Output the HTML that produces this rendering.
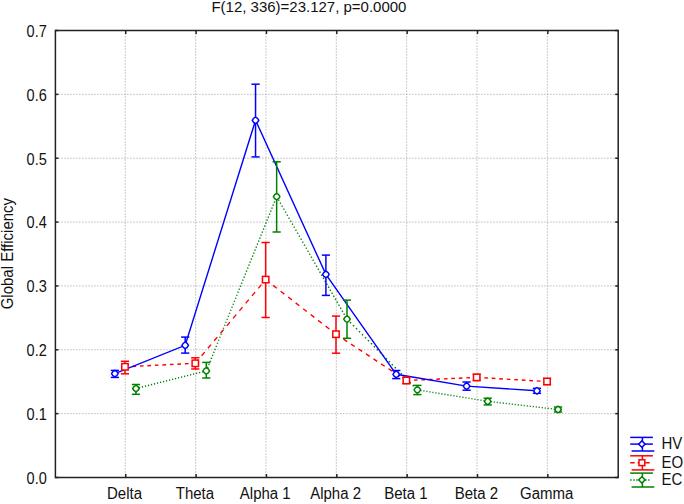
<!DOCTYPE html>
<html><head><meta charset="utf-8"><style>
html,body{margin:0;padding:0;background:#fff;width:684px;height:504px;overflow:hidden;font-family:"Liberation Sans",sans-serif;}
svg{display:block}
</style></head><body>
<svg width="684" height="504" viewBox="0 0 684 504"><rect x="0" y="0" width="684" height="504" fill="#fff"/>
<g stroke="#9a9a9a" stroke-width="1" stroke-dasharray="1 2" fill="none"><line x1="55.4" y1="413.64" x2="618.2" y2="413.64"/><line x1="55.4" y1="349.79" x2="618.2" y2="349.79"/><line x1="55.4" y1="285.93" x2="618.2" y2="285.93"/><line x1="55.4" y1="222.07" x2="618.2" y2="222.07"/><line x1="55.4" y1="158.21" x2="618.2" y2="158.21"/><line x1="55.4" y1="94.36" x2="618.2" y2="94.36"/><line x1="125.25" y1="30.5" x2="125.25" y2="477.5"/><line x1="195.60" y1="30.5" x2="195.60" y2="477.5"/><line x1="265.95" y1="30.5" x2="265.95" y2="477.5"/><line x1="336.30" y1="30.5" x2="336.30" y2="477.5"/><line x1="406.65" y1="30.5" x2="406.65" y2="477.5"/><line x1="477.00" y1="30.5" x2="477.00" y2="477.5"/><line x1="547.35" y1="30.5" x2="547.35" y2="477.5"/></g>
<rect x="55.4" y="30.5" width="562.80" height="447.00" fill="none" stroke="#222" stroke-width="1.5"/>
<g stroke="#222" stroke-width="1.5"><line x1="55.4" y1="477.50" x2="58.4" y2="477.50"/><line x1="618.2" y1="477.50" x2="615.2" y2="477.50"/><line x1="55.4" y1="413.64" x2="58.4" y2="413.64"/><line x1="618.2" y1="413.64" x2="615.2" y2="413.64"/><line x1="55.4" y1="349.79" x2="58.4" y2="349.79"/><line x1="618.2" y1="349.79" x2="615.2" y2="349.79"/><line x1="55.4" y1="285.93" x2="58.4" y2="285.93"/><line x1="618.2" y1="285.93" x2="615.2" y2="285.93"/><line x1="55.4" y1="222.07" x2="58.4" y2="222.07"/><line x1="618.2" y1="222.07" x2="615.2" y2="222.07"/><line x1="55.4" y1="158.21" x2="58.4" y2="158.21"/><line x1="618.2" y1="158.21" x2="615.2" y2="158.21"/><line x1="55.4" y1="94.36" x2="58.4" y2="94.36"/><line x1="618.2" y1="94.36" x2="615.2" y2="94.36"/><line x1="55.4" y1="30.50" x2="58.4" y2="30.50"/><line x1="618.2" y1="30.50" x2="615.2" y2="30.50"/><line x1="125.75" y1="477.5" x2="125.75" y2="474.0"/><line x1="125.75" y1="30.5" x2="125.75" y2="34.0"/><line x1="196.10" y1="477.5" x2="196.10" y2="474.0"/><line x1="196.10" y1="30.5" x2="196.10" y2="34.0"/><line x1="266.45" y1="477.5" x2="266.45" y2="474.0"/><line x1="266.45" y1="30.5" x2="266.45" y2="34.0"/><line x1="336.80" y1="477.5" x2="336.80" y2="474.0"/><line x1="336.80" y1="30.5" x2="336.80" y2="34.0"/><line x1="407.15" y1="477.5" x2="407.15" y2="474.0"/><line x1="407.15" y1="30.5" x2="407.15" y2="34.0"/><line x1="477.50" y1="477.5" x2="477.50" y2="474.0"/><line x1="477.50" y1="30.5" x2="477.50" y2="34.0"/><line x1="547.85" y1="477.5" x2="547.85" y2="474.0"/><line x1="547.85" y1="30.5" x2="547.85" y2="34.0"/></g>
<text transform="translate(46.80 483.90) scale(0.97 1.08)" text-anchor="end" font-family="Liberation Sans, sans-serif" font-size="15" fill="#111">0.0</text>
<text transform="translate(46.80 420.04) scale(0.97 1.08)" text-anchor="end" font-family="Liberation Sans, sans-serif" font-size="15" fill="#111">0.1</text>
<text transform="translate(46.80 356.19) scale(0.97 1.08)" text-anchor="end" font-family="Liberation Sans, sans-serif" font-size="15" fill="#111">0.2</text>
<text transform="translate(46.80 292.33) scale(0.97 1.08)" text-anchor="end" font-family="Liberation Sans, sans-serif" font-size="15" fill="#111">0.3</text>
<text transform="translate(46.80 228.47) scale(0.97 1.08)" text-anchor="end" font-family="Liberation Sans, sans-serif" font-size="15" fill="#111">0.4</text>
<text transform="translate(46.80 164.61) scale(0.97 1.08)" text-anchor="end" font-family="Liberation Sans, sans-serif" font-size="15" fill="#111">0.5</text>
<text transform="translate(46.80 100.76) scale(0.97 1.08)" text-anchor="end" font-family="Liberation Sans, sans-serif" font-size="15" fill="#111">0.6</text>
<text transform="translate(46.80 36.90) scale(0.97 1.08)" text-anchor="end" font-family="Liberation Sans, sans-serif" font-size="15" fill="#111">0.7</text>
<text transform="translate(124.55 499.20) scale(1.0 1.04)" text-anchor="middle" font-family="Liberation Sans, sans-serif" font-size="15" fill="#111">Delta</text>
<text transform="translate(194.90 499.20) scale(1.0 1.04)" text-anchor="middle" font-family="Liberation Sans, sans-serif" font-size="15" fill="#111">Theta</text>
<text transform="translate(265.25 499.20) scale(1.0 1.04)" text-anchor="middle" font-family="Liberation Sans, sans-serif" font-size="15" fill="#111">Alpha 1</text>
<text transform="translate(335.60 499.20) scale(1.0 1.04)" text-anchor="middle" font-family="Liberation Sans, sans-serif" font-size="15" fill="#111">Alpha 2</text>
<text transform="translate(405.95 499.20) scale(1.0 1.04)" text-anchor="middle" font-family="Liberation Sans, sans-serif" font-size="15" fill="#111">Beta 1</text>
<text transform="translate(476.30 499.20) scale(1.0 1.04)" text-anchor="middle" font-family="Liberation Sans, sans-serif" font-size="15" fill="#111">Beta 2</text>
<text transform="translate(546.65 499.20) scale(1.0 1.04)" text-anchor="middle" font-family="Liberation Sans, sans-serif" font-size="15" fill="#111">Gamma</text>
<text transform="translate(211.40 12.30) scale(1.0 1.03)" font-family="Liberation Sans, sans-serif" font-size="15" fill="#111">F(12, 336)=23.127, p=0.0000</text>
<text transform="translate(12.80 253.60) rotate(-90) scale(1.0 1.04)" text-anchor="middle" font-family="Liberation Sans, sans-serif" font-size="15" fill="#111">Global Efficiency</text>
<path d="M135.95 388.50 L206.30 370.90" fill="none" stroke="#008000" stroke-width="1.4" stroke-dasharray="1.19 1.91"/>
<path d="M206.30 370.90 L276.65 196.60" fill="none" stroke="#008000" stroke-width="1.4" stroke-dasharray="1.24 2.00"/>
<path d="M276.65 196.60 L347.00 319.20" fill="none" stroke="#008000" stroke-width="1.4" stroke-dasharray="1.33 2.13"/>
<path d="M347.00 319.20 L417.35 389.90" fill="none" stroke="#008000" stroke-width="1.4" stroke-dasharray="1.62 2.61"/>
<path d="M417.35 389.90 L487.70 401.30" fill="none" stroke="#008000" stroke-width="1.4" stroke-dasharray="1.17 1.87"/>
<path d="M487.70 401.30 L558.05 409.50" fill="none" stroke="#008000" stroke-width="1.4" stroke-dasharray="1.16 1.86"/>
<path d="M124.95 366.80 L195.30 363.30" fill="none" stroke="#ff0000" stroke-width="1.4" stroke-dasharray="3.70 3.80"/>
<path d="M195.30 363.30 L265.65 279.60" fill="none" stroke="#ff0000" stroke-width="1.4" stroke-dasharray="4.83 4.96"/>
<path d="M265.65 279.60 L336.00 334.20" fill="none" stroke="#ff0000" stroke-width="1.4" stroke-dasharray="4.68 4.81"/>
<path d="M336.00 334.20 L406.35 380.50" fill="none" stroke="#ff0000" stroke-width="1.4" stroke-dasharray="4.43 4.55"/>
<path d="M406.35 380.50 L476.70 377.40" fill="none" stroke="#ff0000" stroke-width="1.4" stroke-dasharray="3.70 3.80"/>
<path d="M476.70 377.40 L547.05 381.50" fill="none" stroke="#ff0000" stroke-width="1.4" stroke-dasharray="3.71 3.81"/>
<path d="M114.85 373.60 L185.20 345.30 L255.55 120.30 L325.90 274.40 L396.25 374.30 L466.60 386.10 L536.95 390.80" fill="none" stroke="#0000ff" stroke-width="1.4"/>
<g stroke="#008000" stroke-width="1.5"><line x1="135.95" y1="384.50" x2="135.95" y2="394.30"/><line x1="131.85" y1="384.50" x2="140.05" y2="384.50"/><line x1="131.85" y1="394.30" x2="140.05" y2="394.30"/><line x1="206.30" y1="362.40" x2="206.30" y2="378.00"/><line x1="202.20" y1="362.40" x2="210.40" y2="362.40"/><line x1="202.20" y1="378.00" x2="210.40" y2="378.00"/><line x1="276.65" y1="161.80" x2="276.65" y2="232.00"/><line x1="272.55" y1="161.80" x2="280.75" y2="161.80"/><line x1="272.55" y1="232.00" x2="280.75" y2="232.00"/><line x1="347.00" y1="300.10" x2="347.00" y2="338.30"/><line x1="342.90" y1="300.10" x2="351.10" y2="300.10"/><line x1="342.90" y1="338.30" x2="351.10" y2="338.30"/><line x1="417.35" y1="385.40" x2="417.35" y2="394.60"/><line x1="413.25" y1="385.40" x2="421.45" y2="385.40"/><line x1="413.25" y1="394.60" x2="421.45" y2="394.60"/><line x1="487.70" y1="398.20" x2="487.70" y2="404.90"/><line x1="483.60" y1="398.20" x2="491.80" y2="398.20"/><line x1="483.60" y1="404.90" x2="491.80" y2="404.90"/><line x1="558.05" y1="407.00" x2="558.05" y2="412.00"/><line x1="553.95" y1="407.00" x2="562.15" y2="407.00"/><line x1="553.95" y1="412.00" x2="562.15" y2="412.00"/></g>
<path d="M132.65 388.50 L133.97 386.52 L135.95 385.20 L137.93 386.52 L139.25 388.50 L137.93 390.48 L135.95 391.80 L133.97 390.48Z" fill="#fff" stroke="#008000" stroke-width="1.5" stroke-linejoin="round"/>
<path d="M203.00 370.90 L204.32 368.92 L206.30 367.60 L208.28 368.92 L209.60 370.90 L208.28 372.88 L206.30 374.20 L204.32 372.88Z" fill="#fff" stroke="#008000" stroke-width="1.5" stroke-linejoin="round"/>
<path d="M273.35 196.60 L274.67 194.62 L276.65 193.30 L278.63 194.62 L279.95 196.60 L278.63 198.58 L276.65 199.90 L274.67 198.58Z" fill="#fff" stroke="#008000" stroke-width="1.5" stroke-linejoin="round"/>
<path d="M343.70 319.20 L345.02 317.22 L347.00 315.90 L348.98 317.22 L350.30 319.20 L348.98 321.18 L347.00 322.50 L345.02 321.18Z" fill="#fff" stroke="#008000" stroke-width="1.5" stroke-linejoin="round"/>
<path d="M414.05 389.90 L415.37 387.92 L417.35 386.60 L419.33 387.92 L420.65 389.90 L419.33 391.88 L417.35 393.20 L415.37 391.88Z" fill="#fff" stroke="#008000" stroke-width="1.5" stroke-linejoin="round"/>
<path d="M484.40 401.30 L485.72 399.32 L487.70 398.00 L489.68 399.32 L491.00 401.30 L489.68 403.28 L487.70 404.60 L485.72 403.28Z" fill="#fff" stroke="#008000" stroke-width="1.5" stroke-linejoin="round"/>
<path d="M554.75 409.50 L556.07 407.52 L558.05 406.20 L560.03 407.52 L561.35 409.50 L560.03 411.48 L558.05 412.80 L556.07 411.48Z" fill="#fff" stroke="#008000" stroke-width="1.5" stroke-linejoin="round"/>
<g stroke="#ff0000" stroke-width="1.5"><line x1="124.95" y1="361.30" x2="124.95" y2="373.80"/><line x1="120.85" y1="361.30" x2="129.05" y2="361.30"/><line x1="120.85" y1="373.80" x2="129.05" y2="373.80"/><line x1="195.30" y1="357.80" x2="195.30" y2="369.00"/><line x1="191.20" y1="357.80" x2="199.40" y2="357.80"/><line x1="191.20" y1="369.00" x2="199.40" y2="369.00"/><line x1="265.65" y1="242.50" x2="265.65" y2="317.50"/><line x1="261.55" y1="242.50" x2="269.75" y2="242.50"/><line x1="261.55" y1="317.50" x2="269.75" y2="317.50"/><line x1="336.00" y1="316.10" x2="336.00" y2="353.20"/><line x1="331.90" y1="316.10" x2="340.10" y2="316.10"/><line x1="331.90" y1="353.20" x2="340.10" y2="353.20"/><line x1="406.35" y1="377.50" x2="406.35" y2="383.50"/><line x1="402.25" y1="377.50" x2="410.45" y2="377.50"/><line x1="402.25" y1="383.50" x2="410.45" y2="383.50"/><line x1="476.70" y1="374.40" x2="476.70" y2="380.40"/><line x1="472.60" y1="374.40" x2="480.80" y2="374.40"/><line x1="472.60" y1="380.40" x2="480.80" y2="380.40"/><line x1="547.05" y1="378.50" x2="547.05" y2="384.50"/><line x1="542.95" y1="378.50" x2="551.15" y2="378.50"/><line x1="542.95" y1="384.50" x2="551.15" y2="384.50"/></g>
<rect x="121.75" y="363.60" width="6.40" height="6.40" fill="#fff" stroke="#ff0000" stroke-width="1.5"/>
<rect x="192.10" y="360.10" width="6.40" height="6.40" fill="#fff" stroke="#ff0000" stroke-width="1.5"/>
<rect x="262.45" y="276.40" width="6.40" height="6.40" fill="#fff" stroke="#ff0000" stroke-width="1.5"/>
<rect x="332.80" y="331.00" width="6.40" height="6.40" fill="#fff" stroke="#ff0000" stroke-width="1.5"/>
<rect x="403.15" y="377.30" width="6.40" height="6.40" fill="#fff" stroke="#ff0000" stroke-width="1.5"/>
<rect x="473.50" y="374.20" width="6.40" height="6.40" fill="#fff" stroke="#ff0000" stroke-width="1.5"/>
<rect x="543.85" y="378.30" width="6.40" height="6.40" fill="#fff" stroke="#ff0000" stroke-width="1.5"/>
<g stroke="#0000ff" stroke-width="1.5"><line x1="114.85" y1="370.40" x2="114.85" y2="377.40"/><line x1="110.75" y1="370.40" x2="118.95" y2="370.40"/><line x1="110.75" y1="377.40" x2="118.95" y2="377.40"/><line x1="185.20" y1="337.10" x2="185.20" y2="353.10"/><line x1="181.10" y1="337.10" x2="189.30" y2="337.10"/><line x1="181.10" y1="353.10" x2="189.30" y2="353.10"/><line x1="255.55" y1="84.20" x2="255.55" y2="156.90"/><line x1="251.45" y1="84.20" x2="259.65" y2="84.20"/><line x1="251.45" y1="156.90" x2="259.65" y2="156.90"/><line x1="325.90" y1="255.10" x2="325.90" y2="295.40"/><line x1="321.80" y1="255.10" x2="330.00" y2="255.10"/><line x1="321.80" y1="295.40" x2="330.00" y2="295.40"/><line x1="396.25" y1="370.50" x2="396.25" y2="378.60"/><line x1="392.15" y1="370.50" x2="400.35" y2="370.50"/><line x1="392.15" y1="378.60" x2="400.35" y2="378.60"/><line x1="466.60" y1="382.00" x2="466.60" y2="390.20"/><line x1="462.50" y1="382.00" x2="470.70" y2="382.00"/><line x1="462.50" y1="390.20" x2="470.70" y2="390.20"/><line x1="536.95" y1="388.30" x2="536.95" y2="393.30"/><line x1="532.85" y1="388.30" x2="541.05" y2="388.30"/><line x1="532.85" y1="393.30" x2="541.05" y2="393.30"/></g>
<path d="M111.55 373.60 L112.87 371.62 L114.85 370.30 L116.83 371.62 L118.15 373.60 L116.83 375.58 L114.85 376.90 L112.87 375.58Z" fill="#fff" stroke="#0000ff" stroke-width="1.5" stroke-linejoin="round"/>
<path d="M181.90 345.30 L183.22 343.32 L185.20 342.00 L187.18 343.32 L188.50 345.30 L187.18 347.28 L185.20 348.60 L183.22 347.28Z" fill="#fff" stroke="#0000ff" stroke-width="1.5" stroke-linejoin="round"/>
<path d="M252.25 120.30 L253.57 118.32 L255.55 117.00 L257.53 118.32 L258.85 120.30 L257.53 122.28 L255.55 123.60 L253.57 122.28Z" fill="#fff" stroke="#0000ff" stroke-width="1.5" stroke-linejoin="round"/>
<path d="M322.60 274.40 L323.92 272.42 L325.90 271.10 L327.88 272.42 L329.20 274.40 L327.88 276.38 L325.90 277.70 L323.92 276.38Z" fill="#fff" stroke="#0000ff" stroke-width="1.5" stroke-linejoin="round"/>
<path d="M392.95 374.30 L394.27 372.32 L396.25 371.00 L398.23 372.32 L399.55 374.30 L398.23 376.28 L396.25 377.60 L394.27 376.28Z" fill="#fff" stroke="#0000ff" stroke-width="1.5" stroke-linejoin="round"/>
<path d="M463.30 386.10 L464.62 384.12 L466.60 382.80 L468.58 384.12 L469.90 386.10 L468.58 388.08 L466.60 389.40 L464.62 388.08Z" fill="#fff" stroke="#0000ff" stroke-width="1.5" stroke-linejoin="round"/>
<path d="M533.65 390.80 L534.97 388.82 L536.95 387.50 L538.93 388.82 L540.25 390.80 L538.93 392.78 L536.95 394.10 L534.97 392.78Z" fill="#fff" stroke="#0000ff" stroke-width="1.5" stroke-linejoin="round"/>
<g stroke="#0000ff" stroke-width="1.5"><line x1="630.2" y1="437.4" x2="652.9" y2="437.4"/><line x1="631.6" y1="451.0" x2="654.3" y2="451.0"/><line x1="642.4" y1="437.4" x2="642.4" y2="451.0"/></g>
<line x1="630.2" y1="444.1" x2="652.9" y2="444.1" stroke="#0000ff" stroke-width="1.5" />
<path d="M638.70 444.10 L640.30 442.50 L641.90 440.90 L643.50 442.50 L645.10 444.10 L643.50 445.70 L641.90 447.30 L640.30 445.70Z" fill="#fff" stroke="#0000ff" stroke-width="1.5" stroke-linejoin="round"/>
<text transform="translate(661.40 449.40) scale(1.0 1.04)" font-family="Liberation Sans, sans-serif" font-size="15" fill="#111">HV</text>
<g stroke="#ff0000" stroke-width="1.5"><line x1="630.2" y1="455.8" x2="652.9" y2="455.8"/><line x1="631.6" y1="469.9" x2="654.3" y2="469.9"/><line x1="642.4" y1="455.8" x2="642.4" y2="469.9"/></g>
<line x1="630.2" y1="462.7" x2="650.0" y2="462.7" stroke="#ff0000" stroke-width="1.5" stroke-dasharray="4.5 3"/>
<rect x="639.00" y="459.80" width="5.80" height="5.80" fill="#fff" stroke="#ff0000" stroke-width="1.5"/>
<text transform="translate(661.40 467.60) scale(1.0 1.04)" font-family="Liberation Sans, sans-serif" font-size="15" fill="#111">EO</text>
<g stroke="#008000" stroke-width="1.5"><line x1="630.2" y1="473.1" x2="652.9" y2="473.1"/><line x1="631.6" y1="487.0" x2="654.3" y2="487.0"/><line x1="642.4" y1="473.1" x2="642.4" y2="487.0"/></g>
<line x1="630.2" y1="479.9" x2="649.5" y2="479.9" stroke="#008000" stroke-width="1.5" stroke-dasharray="1.4 1.6"/>
<path d="M638.70 479.90 L640.30 478.30 L641.90 476.70 L643.50 478.30 L645.10 479.90 L643.50 481.50 L641.90 483.10 L640.30 481.50Z" fill="#fff" stroke="#008000" stroke-width="1.5" stroke-linejoin="round"/>
<text transform="translate(661.40 485.00) scale(1.0 1.04)" font-family="Liberation Sans, sans-serif" font-size="15" fill="#111">EC</text></svg>
</body></html>
